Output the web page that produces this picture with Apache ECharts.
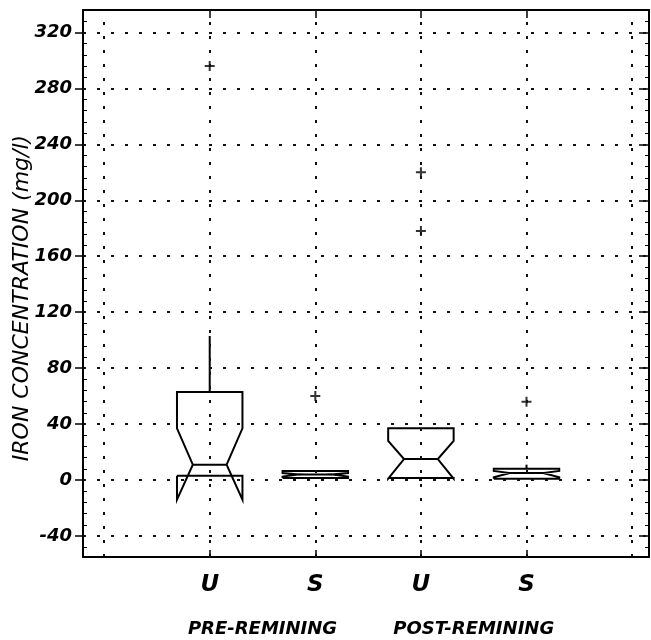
<!DOCTYPE html>
<html>
<head>
<meta charset="utf-8">
<script src="https://cdn.jsdelivr.net/npm/echarts@6/dist/echarts.min.js"></script>
<style>
html,body{margin:0;padding:0;background:#fff;}
#main{width:651px;height:640px;}
</style>
</head>
<body>
<div id="main"></div>
<script>
// ---- data ----
const categories = ['U', 'S', 'U', 'S'];
const categoryPos = [1, 2, 3, 4];
const groups = ['PRE-REMINING', 'POST-REMINING'];
const groupPos = [1.5, 3.5];
const whiskerLow = [3, 1.5, 1.5, 1];
const q1 = [3, 1.5, 1.5, 1];
const median = [11, 4, 15, 5];
const q3 = [63, 6.5, 37, 8];
const whiskerHigh = [103, 6.5, 37, 11];
const notchLow = [-14, 2.5, 1, 2];
const notchHigh = [37, 5, 28, 6.5];
const outlierX = [1, 2, 3, 3, 4];
const outlierY = [296, 60, 220, 178, 56];
const yTicks = [-40, 0, 40, 80, 120, 160, 200, 240, 280, 320];
const yMinorTicks = [-48,-32,-24,-16,-8,8,16,24,32,48,56,64,72,88,96,104,112,128,136,144,152,168,176,184,192,208,216,224,232,248,256,264,272,288,296,304,312,328];
const xGrid = [0, 1, 2, 3, 4, 5];
const yTitle = 'IRON CONCENTRATION (mg/l)';

const FONT = '"DejaVu Sans", sans-serif';
const BOX_HALF = 0.31;
const NOTCH_IN = 0.15;
const X_MIN = -0.2, X_MAX = 5.16, Y_MIN = -55, Y_MAX = 336;

const chart = echarts.init(document.getElementById('main'), null, {renderer: 'canvas'});

const dotted = {color: '#111', width: 2, type: [3, 11]};

const boxData = categoryPos.map((x, i) => [x, whiskerLow[i], whiskerHigh[i]]);

function renderBox(params, api) {
  const i = params.dataIndex;
  const x = categoryPos[i];
  const P = (dx, v) => api.coord([x + dx, v]);
  const h = BOX_HALF, n = NOTCH_IN;
  const style = {stroke: '#000', lineWidth: 2, fill: null};
  const outline = [
    P(-h, q1[i]), P(-h, notchLow[i]), P(-h + n, median[i]), P(-h, notchHigh[i]), P(-h, q3[i]),
    P(h, q3[i]), P(h, notchHigh[i]), P(h - n, median[i]), P(h, notchLow[i]), P(h, q1[i]), P(-h, q1[i])
  ];
  return {
    type: 'group',
    children: [
      {type: 'polyline', shape: {points: outline}, style: style},
      {type: 'polyline', shape: {points: [P(-h + n, median[i]), P(h - n, median[i])]}, style: style},
      {type: 'polyline', shape: {points: [P(0, q3[i]), P(0, whiskerHigh[i])]}, style: style},
      {type: 'polyline', shape: {points: [P(0, q1[i]), P(0, whiskerLow[i])]}, style: style}
    ]
  };
}

const labelFont = {fontFamily: FONT, fontWeight: 'bold', fontStyle: 'italic', color: '#000'};

const option = {
  backgroundColor: '#fff',
  animation: false,
  grid: {left: 83, right: 2, top: 10, bottom: 83, containLabel: false},
  xAxis: [
    {
      type: 'value', position: 'bottom', min: X_MIN, max: X_MAX,
      axisLine: {show: true, onZero: false, lineStyle: {color: '#000', width: 2}},
      axisTick: {show: true, inside: true, length: 7, customValues: categoryPos, lineStyle: {color: '#000', width: 1.5}},
      axisLabel: Object.assign({show: true, customValues: categoryPos, margin: 17, fontSize: 23,
        formatter: v => categories[categoryPos.indexOf(v)]}, labelFont),
      splitLine: {show: false}
    },
    {
      type: 'value', position: 'top', min: X_MIN, max: X_MAX,
      axisLine: {show: true, onZero: false, lineStyle: {color: '#000', width: 2}},
      axisTick: {show: true, inside: true, length: 8, customValues: categoryPos, lineStyle: {color: '#000', width: 1.5}},
      axisLabel: {show: false},
      splitLine: {show: false}
    },
    {
      type: 'value', position: 'bottom', offset: 49, min: X_MIN, max: X_MAX,
      axisLine: {show: false, onZero: false}, axisTick: {show: false},
      axisLabel: Object.assign({show: true, customValues: groupPos, margin: 14, fontSize: 18,
        formatter: v => groups[groupPos.indexOf(v)]}, labelFont),
      splitLine: {show: false}
    }
  ],
  yAxis: [
    {
      type: 'value', position: 'left', min: Y_MIN, max: Y_MAX,
      axisLine: {show: true, onZero: false, lineStyle: {color: '#000', width: 2}},
      axisTick: {show: true, inside: false, length: 8, customValues: yTicks, lineStyle: {color: '#000', width: 1.5}},
      axisLabel: Object.assign({show: true, customValues: yTicks, margin: 11, fontSize: 18}, labelFont),
      splitLine: {show: false}
    },
    {
      type: 'value', position: 'left', min: Y_MIN, max: Y_MAX,
      axisLine: {show: false, onZero: false},
      axisTick: {show: true, inside: true, length: 4, customValues: yMinorTicks, lineStyle: {color: '#000', width: 1}},
      axisLabel: {show: false}, splitLine: {show: false}
    },
    {
      type: 'value', position: 'right', min: Y_MIN, max: Y_MAX,
      axisLine: {show: true, onZero: false, lineStyle: {color: '#000', width: 2}},
      axisTick: {show: true, inside: true, length: 10, customValues: yTicks, lineStyle: {color: '#000', width: 1.5}},
      axisLabel: {show: false}, splitLine: {show: false}
    },
    {
      type: 'value', position: 'right', min: Y_MIN, max: Y_MAX,
      axisLine: {show: false, onZero: false},
      axisTick: {show: true, inside: true, length: 4, customValues: yMinorTicks, lineStyle: {color: '#000', width: 1}},
      axisLabel: {show: false}, splitLine: {show: false}
    }
  ],
  graphic: [{
    type: 'text', x: 22, y: 298, rotation: Math.PI / 2,
    style: {text: yTitle, font: 'italic 22px "DejaVu Sans", sans-serif', fill: '#000', align: 'center', verticalAlign: 'middle'}
  }],
  series: [
    {
      type: 'scatter', xAxisIndex: 0, yAxisIndex: 0,
      data: outlierX.map((x, i) => [x, outlierY[i]]),
      symbol: 'path://M-1,-5H1V-1H5V1H1V5H-1V1H-5V-1H-1Z',
      symbolSize: 10,
      itemStyle: {color: '#000'},
      silent: true,
      markLine: {
        silent: true, symbol: 'none', label: {show: false},
        lineStyle: dotted,
        data: yTicks.map(v => ({yAxis: v})).concat(xGrid.map(v => ({xAxis: v})))
      }
    },
    {
      type: 'custom', xAxisIndex: 0, yAxisIndex: 0,
      data: boxData,
      encode: {x: 0, y: [1, 2]},
      renderItem: renderBox,
      silent: true
    }
  ]
};
chart.setOption(option);
</script>
</body>
</html>
